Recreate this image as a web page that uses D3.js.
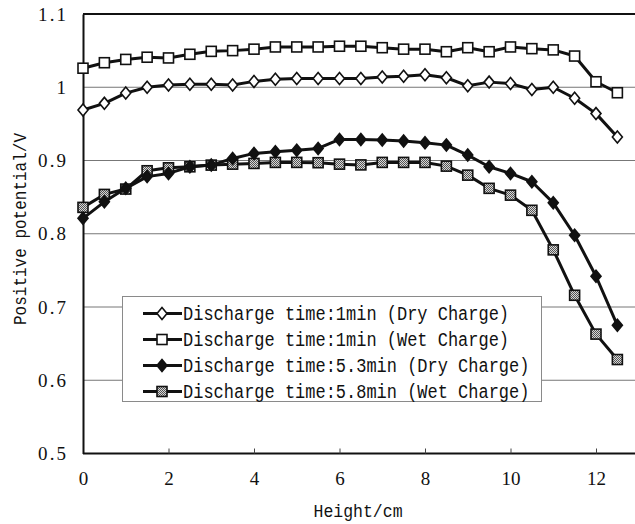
<!DOCTYPE html>
<html>
<head>
<meta charset="utf-8">
<script src="https://cdn.jsdelivr.net/npm/d3@7"></script>
<style>
  html, body { margin: 0; padding: 0; background: #fff; }
  svg { display: block; }
</style>
</head>
<body>
<svg id="chart" width="635" height="524"></svg>
<script>
// ---- data ----
const heights = [0, 0.5, 1, 1.5, 2, 2.5, 3, 3.5, 4, 4.5, 5, 5.5, 6, 6.5, 7, 7.5, 8, 8.5, 9, 9.5, 10, 10.5, 11, 11.5, 12, 12.5];
const dry1min = [0.969, 0.978, 0.992, 1.000, 1.003, 1.004, 1.004, 1.003, 1.008, 1.011, 1.012, 1.012, 1.012, 1.012, 1.014, 1.015, 1.017, 1.013, 1.002, 1.007, 1.005, 0.997, 1.000, 0.985, 0.964, 0.932];
const wet1min = [1.026, 1.0335, 1.038, 1.041, 1.040, 1.045, 1.049, 1.050, 1.052, 1.055, 1.055, 1.055, 1.056, 1.056, 1.054, 1.052, 1.052, 1.0485, 1.054, 1.0485, 1.055, 1.0527, 1.051, 1.0426, 1.0075, 0.9925];
const dry53min = [0.821, 0.8436, 0.862, 0.878, 0.8824, 0.8914, 0.8937, 0.9028, 0.9097, 0.912, 0.914, 0.9165, 0.9288, 0.9288, 0.928, 0.9265, 0.9242, 0.921, 0.9074, 0.8914, 0.8824, 0.871, 0.8422, 0.798, 0.742, 0.675];
const wet58min = [0.836, 0.8537, 0.861, 0.886, 0.890, 0.8914, 0.8937, 0.895, 0.896, 0.8974, 0.8974, 0.897, 0.895, 0.894, 0.8974, 0.8974, 0.8974, 0.8923, 0.880, 0.862, 0.8527, 0.832, 0.778, 0.716, 0.663, 0.6283];
const seriesNames = [
  "Discharge time:1min (Dry Charge)",
  "Discharge time:1min (Wet Charge)",
  "Discharge time:5.3min (Dry Charge)",
  "Discharge time:5.8min (Wet Charge)"
];
const markerKinds = ["openDiamond", "openSquare", "filledDiamond", "patternSquare"];
const xTicks = [0, 2, 4, 6, 8, 10, 12];
const yTicks = [0.5, 0.6, 0.7, 0.8, 0.9, 1.0, 1.1];
const yTickLabels = ["0.5", "0.6", "0.7", "0.8", "0.9", "1", "1.1"];
const xTitle = "Height/cm";
const yTitle = "Positive potential/V";

// ---- layout ----
const svg = d3.select("#chart");
const mLeft = 83, mTop = 14, mBottom = 453.5;
const x = d3.scaleLinear().domain([0, 13]).range([mLeft, mLeft + 13 * 42.75]);
const y = d3.scaleLinear().domain([0.5, 1.1]).range([mBottom, mTop]);

const defs = svg.append("defs");
const pat = defs.append("pattern").attr("id", "dots").attr("width", 2).attr("height", 2)
  .attr("patternUnits", "userSpaceOnUse");
pat.append("rect").attr("width", 2).attr("height", 2).attr("fill", "#d8d8d8");
pat.append("rect").attr("width", 1).attr("height", 1).attr("fill", "#555");
pat.append("rect").attr("x", 1).attr("y", 1).attr("width", 1).attr("height", 1).attr("fill", "#555");

// gridlines
svg.append("g").selectAll("line").data(yTicks.filter(v => v > 0.5 && v < 1.1)).join("line")
  .attr("x1", mLeft).attr("x2", 640)
  .attr("y1", d => y(d)).attr("y2", d => y(d))
  .attr("stroke", "#777").attr("stroke-width", 1);

// frame: top line
svg.append("line").attr("x1", mLeft).attr("x2", 640).attr("y1", y(1.1)).attr("y2", y(1.1))
  .attr("stroke", "#111").attr("stroke-width", 2);

// x axis
const xAxis = d3.axisBottom(x).tickValues(xTicks).tickSize(-5).tickPadding(18)
  .tickFormat(d3.format("d"));
const gx = svg.append("g").attr("transform", `translate(0,${mBottom})`).call(xAxis);
gx.select(".domain").attr("d", `M${mLeft},0H640`).attr("stroke", "#111").attr("stroke-width", 2);
gx.selectAll(".tick line").attr("stroke", "#444").attr("stroke-width", 1);
gx.selectAll(".tick text").attr("font-family", "Liberation Serif").attr("font-size", 19)
  .attr("fill", "#111");

// y axis
const yAxis = d3.axisLeft(y).tickValues(yTicks).tickSize(0).tickPadding(17)
  .tickFormat((d, i) => yTickLabels[i]);
const gy = svg.append("g").attr("transform", `translate(${mLeft},0)`).call(yAxis);
gy.select(".domain").attr("stroke", "#111").attr("stroke-width", 2);
gy.selectAll(".tick text").attr("font-family", "Liberation Serif").attr("font-size", 19)
  .attr("fill", "#111")
  .each(function(d, i) { if (yTickLabels[i].length === 3) d3.select(this).attr("textLength", 28).attr("lengthAdjust", "spacing"); });

// axis titles
svg.append("text").attr("transform", "translate(358,517) scale(1,1.15)").attr("text-anchor", "middle")
  .attr("font-family", "Liberation Mono").attr("font-size", 16.5).attr("fill", "#111").text(xTitle);
svg.append("text").attr("transform", "translate(26,229) rotate(-90) scale(1,1.15)").attr("text-anchor", "middle")
  .attr("font-family", "Liberation Mono").attr("font-size", 16).attr("fill", "#111").text(yTitle);

// markers
function drawMarker(g, kind, cx, cy) {
  if (kind === "openDiamond" || kind === "filledDiamond") {
    g.append("path").attr("d", `M${cx},${cy-6}L${cx+5},${cy}L${cx},${cy+6}L${cx-5},${cy}Z`)
      .attr("fill", kind === "openDiamond" ? "#fff" : "#111")
      .attr("stroke", "#111").attr("stroke-width", 1.6);
  } else {
    g.append("rect").attr("x", cx - 5).attr("y", cy - 5).attr("width", 10).attr("height", 10)
      .attr("fill", kind === "openSquare" ? "#fff" : "url(#dots)")
      .attr("stroke", "#111").attr("stroke-width", 1.6);
  }
}

const allSeries = [dry1min, wet1min, dry53min, wet58min];
const line = d3.line().x((d, i) => x(heights[i])).y(d => y(d));
const order = [3, 2, 0, 1];
order.forEach(si => {
  const g = svg.append("g");
  g.append("path").datum(allSeries[si]).attr("d", line)
    .attr("fill", "none").attr("stroke", "#111").attr("stroke-width", 3).attr("stroke-linejoin", "round");
  allSeries[si].forEach((v, i) => drawMarker(g, markerKinds[si], x(heights[i]), y(v)));
});

// legend
const lg = svg.append("g");
lg.append("rect").attr("x", 122.5).attr("y", 296.5).attr("width", 419).attr("height", 105)
  .attr("fill", "#fff").attr("stroke", "#8a8a8a").attr("stroke-width", 1);
seriesNames.forEach((name, i) => {
  const cy = 313.5 + i * 26;
  lg.append("line").attr("x1", 143).attr("x2", 182).attr("y1", cy).attr("y2", cy)
    .attr("stroke", "#111").attr("stroke-width", 3);
  drawMarker(lg, markerKinds[i], 162, cy);
  lg.append("text").attr("transform", `translate(183,${cy + 6.5}) scale(1,1.15)`)
    .attr("font-family", "Liberation Mono")
    .attr("font-size", 17).attr("fill", "#111").text(name);
});
</script>
</body>
</html>
